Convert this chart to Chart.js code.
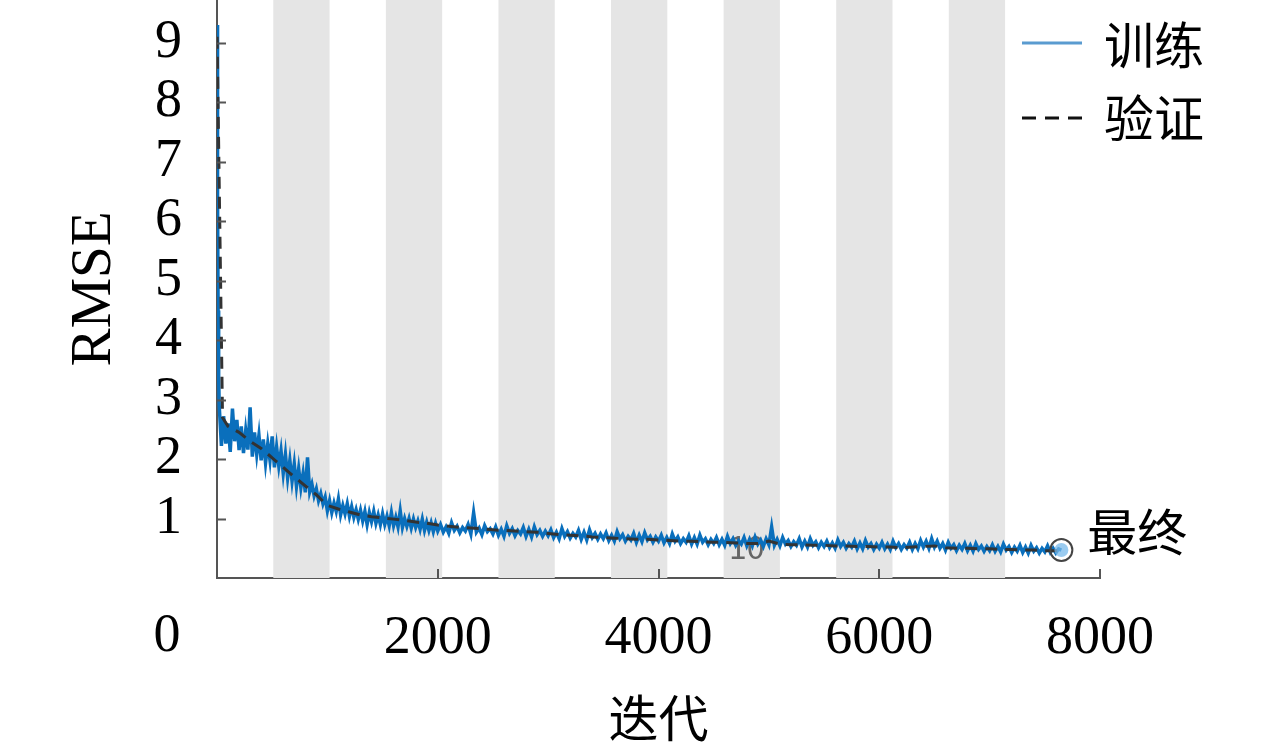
<!DOCTYPE html>
<html>
<head>
<meta charset="utf-8">
<script src="https://cdn.jsdelivr.net/npm/chart.js@4/dist/chart.umd.min.js"></script>
<style>
  html, body { margin: 0; padding: 0; background: #fff; }
</style>
</head>
<body>
<canvas id="chart" width="1280" height="748"></canvas>
<script>
// training RMSE, first 2000 iterations (logged every 20)
const trainIterEarly = [
  1, 5, 10, 15,
  20, 40, 60, 80, 100, 120, 140, 160, 180, 200,
  220, 240, 260, 280, 300, 320, 340, 360, 380, 400,
  420, 440, 460, 480, 500, 520, 540, 560, 580, 600,
  620, 640, 660, 680, 700, 720, 740, 760, 780, 800,
  820, 840, 860, 880, 900, 920, 940, 960, 980, 1000,
  1020, 1040, 1060, 1080, 1100, 1120, 1140, 1160, 1180, 1200,
  1220, 1240, 1260, 1280, 1300, 1320, 1340, 1360, 1380, 1400,
  1420, 1440, 1460, 1480, 1500, 1520, 1540, 1560, 1580, 1600,
  1620, 1640, 1660, 1680, 1700, 1720, 1740, 1760, 1780, 1800,
  1820, 1840, 1860, 1880, 1900, 1920, 1940, 1960, 1980, 2000
];
const trainRmseEarly = [
  9.3, 6.4, 4.5, 3.4,
  2.9, 2.22, 2.72, 2.26, 2.6, 2.12, 2.85, 2.3, 2.66, 2.15,
  2.55, 2.1, 2.48, 2.16, 2.87, 2.04, 2.45, 2.08, 2.4, 1.98,
  2.33, 1.93, 2.26, 1.98, 2.38, 1.86, 2.2, 1.88, 2.14, 1.76,
  2.08, 1.68, 1.98, 1.63, 1.92, 1.54, 1.84, 1.52, 1.76, 1.44,
  2.03, 1.45, 1.58, 1.38, 1.5, 1.3, 1.42, 1.25, 1.36, 1.13,
  1.3, 1.1, 1.26, 1.12, 1.33, 1.06, 1.22, 1.08, 1.25, 1.04,
  1.2, 1.02, 1.15, 0.99, 1.14, 0.96, 1.12, 0.9, 1.1, 0.95,
  1.12, 0.92, 1.06, 0.9, 1.08, 0.9, 1.04, 0.88, 1.1, 0.88,
  1.02, 0.86, 1.13, 0.85, 1.0, 0.87, 1.0, 0.84, 0.99, 0.85,
  0.96, 0.82, 0.99, 0.8, 0.94, 0.8, 0.93, 0.78, 0.92, 0.79
];

// training RMSE after 2000 iterations (logged every 25)
const trainIterLate = [
  2025, 2050, 2075, 2100, 2125, 2150, 2175, 2200, 2225, 2250, 2275, 2300, 2325, 2350, 2375, 2400, 2425, 2450, 2475, 2500,
  2525, 2550, 2575, 2600, 2625, 2650, 2675, 2700, 2725, 2750, 2775, 2800, 2825, 2850, 2875, 2900, 2925, 2950, 2975, 3000,
  3025, 3050, 3075, 3100, 3125, 3150, 3175, 3200, 3225, 3250, 3275, 3300, 3325, 3350, 3375, 3400, 3425, 3450, 3475, 3500,
  3525, 3550, 3575, 3600, 3625, 3650, 3675, 3700, 3725, 3750, 3775, 3800, 3825, 3850, 3875, 3900, 3925, 3950, 3975, 4000,
  4025, 4050, 4075, 4100, 4125, 4150, 4175, 4200, 4225, 4250, 4275, 4300, 4325, 4350, 4375, 4400, 4425, 4450, 4475, 4500,
  4525, 4550, 4575, 4600, 4625, 4650, 4675, 4700, 4725, 4750, 4775, 4800, 4825, 4850, 4875, 4900, 4925, 4950, 4975, 5000,
  5025, 5050, 5075, 5100, 5125, 5150, 5175, 5200, 5225, 5250, 5275, 5300, 5325, 5350, 5375, 5400, 5425, 5450, 5475, 5500,
  5525, 5550, 5575, 5600, 5625, 5650, 5675, 5700, 5725, 5750, 5775, 5800, 5825, 5850, 5875, 5900, 5925, 5950, 5975, 6000,
  6025, 6050, 6075, 6100, 6125, 6150, 6175, 6200, 6225, 6250, 6275, 6300, 6325, 6350, 6375, 6400, 6425, 6450, 6475, 6500,
  6525, 6550, 6575, 6600, 6625, 6650, 6675, 6700, 6725, 6750, 6775, 6800, 6825, 6850, 6875, 6900, 6925, 6950, 6975, 7000,
  7025, 7050, 7075, 7100, 7125, 7150, 7175, 7200, 7225, 7250, 7275, 7300, 7325, 7350, 7375, 7400, 7425, 7450, 7475, 7500,
  7525, 7550, 7575, 7600, 7625, 7650
];
const trainRmseLate = [
  0.9, 0.77, 0.86, 0.75, 0.93, 0.8, 0.87, 0.76, 0.85, 0.79, 0.9, 0.74, 1.1, 0.77, 0.84, 0.73, 0.88, 0.78, 0.83, 0.74,
  0.86, 0.72, 0.82, 0.7, 0.88, 0.75, 0.83, 0.71, 0.8, 0.74, 0.85, 0.7, 0.82, 0.69, 0.86, 0.73, 0.8, 0.7, 0.79, 0.71,
  0.81, 0.68, 0.77, 0.66, 0.83, 0.7, 0.78, 0.67, 0.75, 0.69, 0.8, 0.65, 0.77, 0.64, 0.81, 0.68, 0.75, 0.65, 0.74, 0.66,
  0.76, 0.63, 0.72, 0.62, 0.78, 0.66, 0.73, 0.62, 0.7, 0.64, 0.75, 0.6, 0.72, 0.61, 0.76, 0.64, 0.7, 0.6, 0.69, 0.62,
  0.72, 0.59, 0.68, 0.58, 0.74, 0.62, 0.69, 0.58, 0.66, 0.6, 0.71, 0.57, 0.68, 0.57, 0.72, 0.6, 0.66, 0.56, 0.65, 0.58,
  0.68, 0.56, 0.65, 0.55, 0.7, 0.58, 0.66, 0.55, 0.63, 0.57, 0.68, 0.54, 0.65, 0.54, 0.69, 0.57, 0.64, 0.53, 0.66, 0.56,
  0.86, 0.55, 0.65, 0.54, 0.68, 0.57, 0.63, 0.53, 0.61, 0.55, 0.66, 0.52, 0.62, 0.52, 0.66, 0.55, 0.61, 0.51, 0.6, 0.53,
  0.62, 0.51, 0.59, 0.5, 0.64, 0.53, 0.6, 0.5, 0.58, 0.52, 0.62, 0.49, 0.59, 0.49, 0.63, 0.52, 0.58, 0.48, 0.57, 0.5,
  0.6, 0.49, 0.57, 0.48, 0.62, 0.51, 0.58, 0.48, 0.56, 0.5, 0.6, 0.48, 0.58, 0.49, 0.63, 0.52, 0.62, 0.5, 0.66, 0.52,
  0.62, 0.5, 0.58, 0.47, 0.6, 0.5, 0.56, 0.46, 0.55, 0.48, 0.58, 0.46, 0.55, 0.45, 0.58, 0.48, 0.54, 0.45, 0.53, 0.46,
  0.56, 0.45, 0.53, 0.44, 0.57, 0.47, 0.53, 0.43, 0.52, 0.45, 0.55, 0.43, 0.52, 0.42, 0.55, 0.45, 0.51, 0.42, 0.5, 0.44,
  0.54, 0.43, 0.5, 0.42, 0.49, 0.47
];

// validation RMSE
const valIter = [
  1, 50, 100, 200, 300, 400, 500, 600, 700, 800, 900, 1000, 1100, 1200, 1300, 1400, 1500,
  1600, 1700, 1800, 1900, 2000, 2100, 2200, 2300, 2400, 2500, 2600, 2700, 2800, 2900, 3000,
  3100, 3200, 3300, 3400, 3500, 3600, 3700, 3800, 3900, 4000, 4100, 4200, 4300, 4400, 4500,
  4600, 4700, 4800, 4900, 5000, 5100, 5200, 5300, 5400, 5500, 5600, 5700, 5800, 5900, 6000,
  6100, 6200, 6300, 6400, 6500, 6600, 6700, 6800, 6900, 7000, 7100, 7200, 7300, 7400, 7500,
  7600, 7650
];
const valRmse = [
  9.1, 2.7, 2.55, 2.45, 2.3, 2.18, 2.02, 1.86, 1.7, 1.55, 1.4, 1.22, 1.16, 1.11, 1.06, 1.03, 1.01,
  0.99, 0.97, 0.94, 0.92, 0.89, 0.87, 0.85, 0.84, 0.83, 0.81, 0.8, 0.79, 0.78, 0.77, 0.75,
  0.73, 0.72, 0.71, 0.69, 0.68, 0.67, 0.66, 0.65, 0.65, 0.64, 0.63, 0.62, 0.62, 0.61, 0.6,
  0.6, 0.59, 0.58, 0.58, 0.62, 0.57, 0.56, 0.56, 0.55, 0.55, 0.54, 0.54, 0.53, 0.53, 0.52,
  0.52, 0.51, 0.52, 0.53, 0.54, 0.51, 0.5, 0.5, 0.49, 0.49, 0.48, 0.48, 0.47, 0.47, 0.46,
  0.46, 0.46
];

// shaded (even) epochs, in iterations
const shadedEpochs = [[510, 1020], [1530, 2040], [2550, 3060], [3570, 4080], [4590, 5100], [5610, 6120], [6630, 7140]];
const epochLabel = { text: '10', iter: 4800, rmse: 0.52 };

const xTicks = [0, 2000, 4000, 6000, 8000];
const yTicks = [1, 2, 3, 4, 5, 6, 7, 8, 9];

const serif = '"Liberation Serif", "DejaVu Serif", serif';
const cjk = '"Noto Sans CJK SC", "Noto Sans", sans-serif';

const trainIter = trainIterEarly.concat(trainIterLate);
const trainRmse = trainRmseEarly.concat(trainRmseLate);
const toPoints = (xs, ys) => xs.map((x, i) => ({ x: x, y: ys[i] }));
const lastIdx = trainIter.length - 1;

const epochBands = {
  id: 'epochBands',
  beforeDatasetsDraw(chart) {
    const { ctx, chartArea: a, scales: { x, y } } = chart;
    ctx.save();
    ctx.fillStyle = '#e5e5e5';
    shadedEpochs.forEach(([s, e]) => {
      const x0 = x.getPixelForValue(s);
      const x1 = x.getPixelForValue(e);
      ctx.fillRect(x0, a.top, x1 - x0, a.bottom - a.top);
    });
    // epoch number, sits under the curves
    ctx.fillStyle = '#666';
    ctx.font = '32px ' + cjk;
    ctx.textAlign = 'center';
    ctx.textBaseline = 'middle';
    ctx.fillText(epochLabel.text, x.getPixelForValue(epochLabel.iter), y.getPixelForValue(epochLabel.rmse));
    ctx.restore();
  }
};

const extras = {
  id: 'extras',
  afterDraw(chart) {
    const { ctx, chartArea: a, scales: { x, y } } = chart;
    ctx.save();
    // inward tick marks
    ctx.strokeStyle = '#555';
    ctx.lineWidth = 2;
    ctx.beginPath();
    yTicks.forEach(v => {
      const py = Math.round(y.getPixelForValue(v)) + 0.5;
      ctx.moveTo(a.left, py);
      ctx.lineTo(a.left + 9, py);
    });
    xTicks.slice(1).forEach(v => {
      const px = Math.round(x.getPixelForValue(v));
      ctx.moveTo(px, a.bottom);
      ctx.lineTo(px, a.bottom - 9);
    });
    ctx.stroke();

    // lone "0" at the corner
    ctx.fillStyle = '#000';
    ctx.font = '54px ' + serif;
    ctx.textAlign = 'center';
    ctx.textBaseline = 'middle';
    ctx.fillText('0', 167, 637);

    // legend
    ctx.lineWidth = 3;
    ctx.strokeStyle = '#5a9bd0';
    ctx.beginPath();
    ctx.moveTo(1022, 43);
    ctx.lineTo(1082, 43);
    ctx.stroke();
    ctx.strokeStyle = '#111';
    ctx.setLineDash([14, 9]);
    ctx.beginPath();
    ctx.moveTo(1022, 118);
    ctx.lineTo(1082, 118);
    ctx.stroke();
    ctx.setLineDash([]);
    ctx.font = '50px ' + cjk;
    ctx.textAlign = 'left';
    ctx.fillText('训练', 1104, 45);
    ctx.fillText('验证', 1104, 118);

    // final marker label
    const fx = x.getPixelForValue(trainIter[lastIdx]);
    const fy = y.getPixelForValue(trainRmse[lastIdx]);
    ctx.fillText('最终', fx + 26, fy - 18);
    ctx.restore();
  }
};

new Chart(document.getElementById('chart'), {
  type: 'line',
  data: {
    datasets: [
      {
        label: '最终环',
        data: [{ x: trainIter[lastIdx], y: trainRmse[lastIdx] }],
        showLine: false,
        pointRadius: 11,
        pointBorderWidth: 2,
        pointBorderColor: '#444',
        pointBackgroundColor: 'rgba(0,0,0,0)',
        order: 0
      },
      {
        label: '最终',
        data: [{ x: trainIter[lastIdx], y: trainRmse[lastIdx] }],
        showLine: false,
        pointRadius: 7,
        pointBorderWidth: 0,
        pointBackgroundColor: 'rgba(120,185,235,0.75)',
        order: 1
      },
      {
        label: '验证',
        data: toPoints(valIter, valRmse),
        borderColor: '#333',
        borderWidth: 3,
        borderDash: [12, 8],
        pointRadius: 0,
        tension: 0,
        order: 2
      },
      {
        label: '训练',
        data: toPoints(trainIter, trainRmse),
        borderColor: '#0a6fbc',
        borderWidth: 3.5,
        pointRadius: 0,
        tension: 0,
        order: 3
      }
    ]
  },
  options: {
    responsive: false,
    animation: false,
    layout: { autoPadding: false, padding: { top: 0, right: 180, bottom: 0, left: 0 } },
    plugins: { legend: { display: false }, tooltip: { enabled: false } },
    scales: {
      x: {
        type: 'linear',
        min: 0,
        max: 8000,
        afterBuildTicks: s => { s.ticks = xTicks.map(v => ({ value: v })); },
        afterFit: s => { s.height = 170; s.paddingLeft = 0; s.paddingRight = 0; },
        ticks: {
          callback: v => (v === 0 ? '' : String(v)),
          font: { family: serif, size: 54 },
          color: '#000',
          padding: 28,
          maxRotation: 0,
          autoSkip: false
        },
        grid: { display: false, drawTicks: false },
        border: { display: true, color: '#555', width: 2 },
        title: { display: true, text: '迭代', font: { family: cjk, size: 50 }, color: '#000', padding: { top: 0, bottom: 0 } }
      },
      y: {
        min: 0,
        max: 9.72,
        afterBuildTicks: s => { s.ticks = yTicks.map(v => ({ value: v })); },
        afterFit: s => { s.width = 217; s.paddingTop = 0; s.paddingBottom = 0; },
        ticks: {
          font: { family: serif, size: 54 },
          color: '#000',
          padding: 35,
          autoSkip: false
        },
        grid: { display: false, drawTicks: false },
        border: { display: true, color: '#555', width: 2 },
        title: { display: true, text: 'RMSE', font: { family: serif, size: 57 }, color: '#000', padding: { top: 61, bottom: 0 } }
      }
    }
  },
  plugins: [epochBands, extras]
});
</script>
</body>
</html>
